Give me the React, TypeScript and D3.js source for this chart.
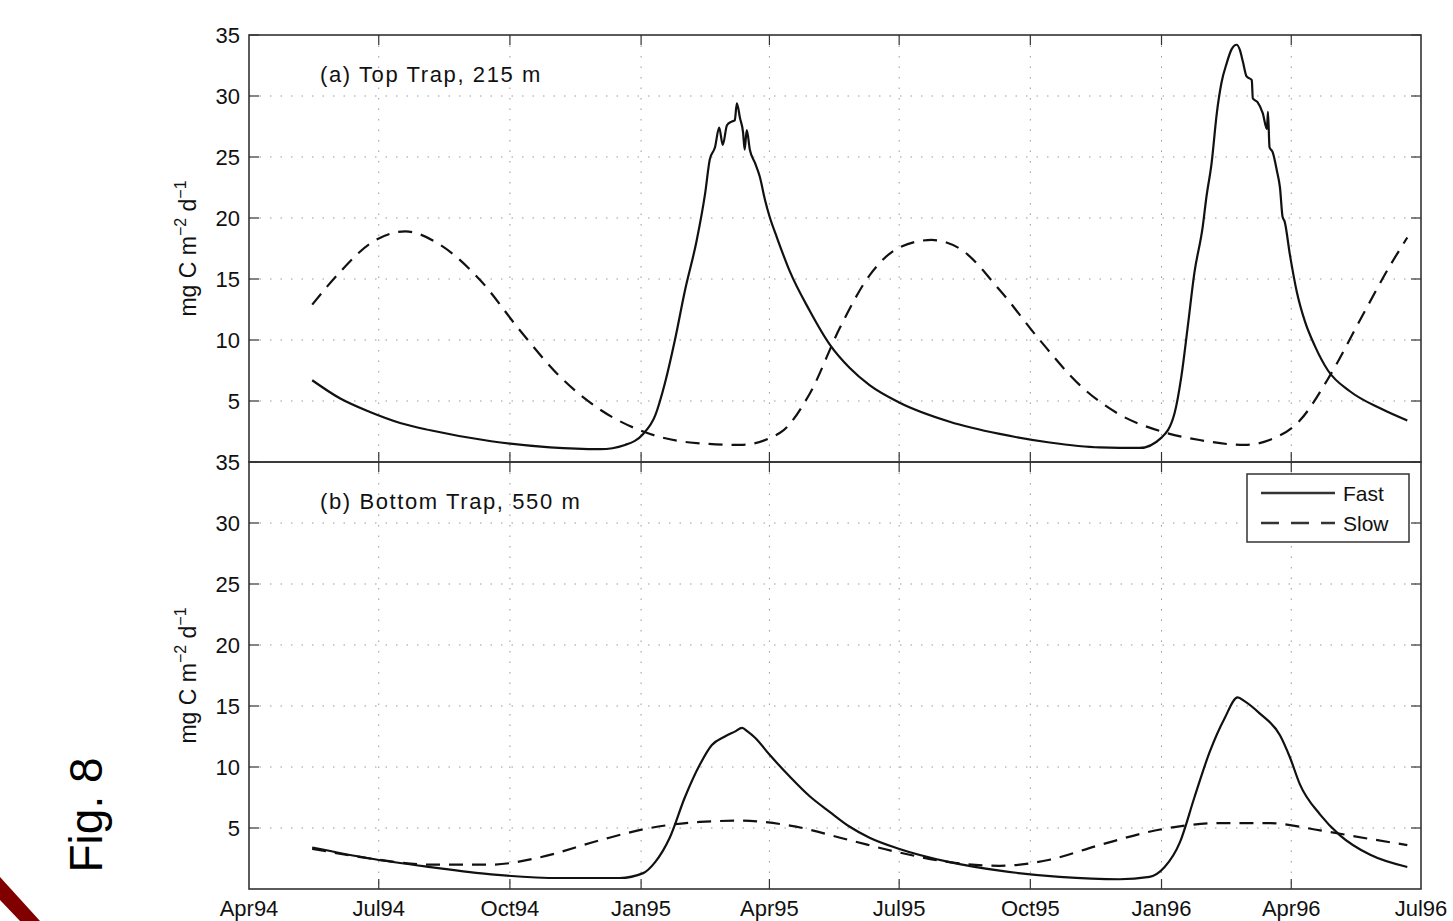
import React from "react";
import * as d3 from "d3";

// ---- data (time as decimal year, value in mg C m^-2 d^-1) ----
const xTickDates = [[1994, 3], [1994, 6], [1994, 9], [1995, 0], [1995, 3], [1995, 6], [1995, 9], [1996, 0], [1996, 3], [1996, 6]];
const xTickLabels = ["Apr94", "Jul94", "Oct94", "Jan95", "Apr95", "Jul95", "Oct95", "Jan96", "Apr96", "Jul96"];
const yTicks = [5, 10, 15, 20, 25, 30, 35];

const topFast: [number, number][] = [
  [1994.368, 6.7], [1994.422, 5.2], [1994.479, 4.1], [1994.537, 3.2], [1994.595, 2.6], [1994.712, 1.7],
  [1994.825, 1.2], [1994.921, 1.05], [1994.969, 1.4], [1995.004, 2.3], [1995.027, 3.8], [1995.046, 6.5],
  [1995.065, 10.0], [1995.084, 14.0], [1995.107, 18.2], [1995.123, 22.0], [1995.132, 24.8], [1995.142, 25.8],
  [1995.15, 27.4], [1995.157, 26.0], [1995.165, 27.6], [1995.174, 27.9], [1995.18, 28.0], [1995.184, 29.4],
  [1995.19, 28.2], [1995.196, 27.0], [1995.199, 25.6], [1995.203, 27.2], [1995.209, 25.6], [1995.219, 24.5],
  [1995.228, 23.4], [1995.238, 21.5], [1995.247, 20.1], [1995.261, 18.4], [1995.286, 15.6], [1995.324, 12.4],
  [1995.363, 9.6], [1995.401, 7.7], [1995.439, 6.3], [1995.495, 4.9], [1995.593, 3.3], [1995.689, 2.3],
  [1995.785, 1.6], [1995.881, 1.2], [1995.958, 1.15], [1996.0, 2.0], [1996.025, 4.0], [1996.038, 7.0],
  [1996.05, 11.0], [1996.063, 15.5], [1996.079, 19.3], [1996.086, 21.7], [1996.096, 24.5], [1996.106, 28.6],
  [1996.115, 31.1], [1996.125, 32.7], [1996.134, 33.8], [1996.144, 34.2], [1996.15, 33.8], [1996.156, 32.8],
  [1996.163, 31.6], [1996.173, 31.3], [1996.175, 29.8], [1996.184, 29.5], [1996.194, 28.6], [1996.202, 27.3],
  [1996.204, 28.7], [1996.207, 25.8], [1996.213, 25.4], [1996.221, 23.9], [1996.227, 22.5], [1996.232, 20.1],
  [1996.236, 19.7], [1996.246, 17.0], [1996.259, 14.0], [1996.275, 11.5], [1996.294, 9.5], [1996.319, 7.5],
  [1996.361, 5.8], [1996.419, 4.4], [1996.471, 3.4],
];

const topSlow: [number, number][] = [
  [1994.368, 12.9], [1994.422, 15.6], [1994.479, 17.9], [1994.547, 18.9], [1994.614, 17.8], [1994.691, 14.9],
  [1994.767, 10.8], [1994.844, 7.0], [1994.921, 4.3], [1995.004, 2.5], [1995.094, 1.6], [1995.19, 1.4],
  [1995.267, 2.4], [1995.324, 5.6], [1995.382, 11.0], [1995.439, 15.3], [1995.497, 17.6], [1995.558, 18.2],
  [1995.612, 17.5], [1995.689, 14.1], [1995.766, 10.0], [1995.843, 6.3], [1995.919, 3.9], [1996.0, 2.5],
  [1996.073, 1.8], [1996.159, 1.4], [1996.207, 1.8], [1996.265, 3.4], [1996.323, 7.1], [1996.38, 11.6],
  [1996.438, 16.1], [1996.471, 18.4],
];

const bottomFast: [number, number][] = [
  [1994.368, 3.4], [1994.479, 2.5], [1994.595, 1.8], [1994.712, 1.2], [1994.844, 0.9], [1994.959, 0.9],
  [1995.004, 1.3], [1995.027, 2.2], [1995.055, 4.2], [1995.084, 7.5], [1995.113, 10.2], [1995.136, 11.8],
  [1995.161, 12.5], [1995.18, 12.9], [1995.194, 13.2], [1995.205, 12.9], [1995.219, 12.4], [1995.247, 11.0],
  [1995.286, 9.2], [1995.324, 7.6], [1995.363, 6.3], [1995.401, 5.1], [1995.439, 4.2], [1995.495, 3.3],
  [1995.593, 2.2], [1995.689, 1.5], [1995.804, 1.0], [1995.919, 0.8], [1995.977, 1.0], [1996.006, 1.8],
  [1996.035, 3.8], [1996.063, 7.5], [1996.092, 11.2], [1996.121, 14.0], [1996.146, 15.7], [1996.159, 15.4],
  [1996.188, 14.4], [1996.227, 12.6], [1996.246, 10.8], [1996.265, 8.6], [1996.304, 6.1], [1996.342, 4.4],
  [1996.4, 2.8], [1996.471, 1.8],
];

const bottomSlow: [number, number][] = [
  [1994.368, 3.3], [1994.479, 2.5], [1994.595, 2.0], [1994.712, 2.0], [1994.806, 2.6], [1994.921, 4.0],
  [1995.017, 5.0], [1995.113, 5.5], [1995.19, 5.6], [1995.286, 5.2], [1995.401, 4.0], [1995.495, 3.0],
  [1995.593, 2.2], [1995.689, 1.9], [1995.785, 2.4], [1995.881, 3.6], [1996.0, 4.9], [1996.111, 5.4],
  [1996.207, 5.4], [1996.304, 4.8], [1996.4, 4.1], [1996.471, 3.6],
];

const legendLabels = ["Fast", "Slow"];
const panelTitles = ["(a) Top Trap, 215 m", "(b) Bottom Trap, 550 m"];

// ---- helpers ----
function decYear(t: number): Date {
  const y = Math.floor(t);
  const s = Date.UTC(y, 0, 1);
  const e = Date.UTC(y + 1, 0, 1);
  return new Date(s + (t - y) * (e - s));
}

const W = 1453;
const H = 921;
const L = 249;
const R = 1421;
const FONT = "'Liberation Sans', Arial, Helvetica, sans-serif";

const x = d3.scaleUtc().domain([new Date(Date.UTC(1994, 3, 1)), new Date(Date.UTC(1996, 6, 1))]).range([L, R]);
const tickDates = xTickDates.map(([y, m]) => new Date(Date.UTC(y, m, 1)));

function Panel({ top, bottom, fast, slow, title, legend, showXLabels }: any) {
  const y = d3.scaleLinear().domain([0, 35]).range([bottom, top]);
  const line = d3
    .line<[number, number]>()
    .x((d) => x(decYear(d[0])))
    .y((d) => y(d[1]))
    .curve(d3.curveMonotoneX);
  const tickLen = 10;
  const axisColor = "#333";
  return (
    <g>
      {/* grid */}
      {tickDates.slice(1, -1).map((d, i) => (
        <line key={"gx" + i} x1={x(d)} x2={x(d)} y1={top} y2={bottom} stroke="#999" strokeWidth={1} strokeDasharray="1.5,9" />
      ))}
      {yTicks.slice(0, -1).map((v) => (
        <line key={"gy" + v} x1={L} x2={R} y1={y(v)} y2={y(v)} stroke="#999" strokeWidth={1} strokeDasharray="1.5,9" />
      ))}
      {/* ticks */}
      {tickDates.slice(1, -1).map((d, i) => (
        <g key={"tx" + i}>
          <line x1={x(d)} x2={x(d)} y1={bottom} y2={bottom - tickLen} stroke={axisColor} strokeWidth={1.2} />
          <line x1={x(d)} x2={x(d)} y1={top} y2={top + tickLen} stroke={axisColor} strokeWidth={1.2} />
        </g>
      ))}
      {yTicks.map((v) => (
        <g key={"ty" + v}>
          <line x1={L} x2={L + tickLen} y1={y(v)} y2={y(v)} stroke={axisColor} strokeWidth={1.2} />
          <line x1={R} x2={R - tickLen} y1={y(v)} y2={y(v)} stroke={axisColor} strokeWidth={1.2} />
          <text x={240} y={y(v) + 8} textAnchor="end" fontSize={22} fontFamily={FONT} fill="#111">
            {v}
          </text>
        </g>
      ))}
      {/* curves */}
      <path d={line(slow) || ""} fill="none" stroke="#111" strokeWidth={2.2} strokeDasharray="14,9" />
      <path d={line(fast) || ""} fill="none" stroke="#111" strokeWidth={2.2} />
      {/* box */}
      <rect x={L} y={top} width={R - L} height={bottom - top} fill="none" stroke={axisColor} strokeWidth={1.6} />
      {/* title */}
      <text x={320} y={top + 47} fontSize={22} fontFamily={FONT} letterSpacing={1.6} fill="#111">
        {title}
      </text>
      {/* y label */}
      <text
        transform={`translate(196,${(top + bottom) / 2}) rotate(-90)`}
        textAnchor="middle"
        fontSize={23}
        fontFamily={FONT}
        fill="#111"
      >
        mg C m
        <tspan dy={-10} fontSize={16}>−2</tspan>
        <tspan dy={10}> d</tspan>
        <tspan dy={-10} fontSize={16}>−1</tspan>
      </text>
      {showXLabels &&
        tickDates.map((d, i) => (
          <text key={"xl" + i} x={x(d)} y={916} textAnchor="middle" fontSize={22} fontFamily={FONT} fill="#111">
            {xTickLabels[i]}
          </text>
        ))}
      {legend && (
        <g>
          <rect x={1247} y={474} width={162} height={68} fill="#fff" stroke={axisColor} strokeWidth={1.5} />
          <line x1={1261} x2={1335} y1={493} y2={493} stroke="#333" strokeWidth={2.4} />
          <line x1={1261} x2={1335} y1={523} y2={523} stroke="#333" strokeWidth={2.4} strokeDasharray="18,12" />
          <text x={1343} y={501} fontSize={21} fontFamily={FONT} fill="#111">{legendLabels[0]}</text>
          <text x={1343} y={531} fontSize={21} fontFamily={FONT} fill="#111">{legendLabels[1]}</text>
        </g>
      )}
    </g>
  );
}

export default function App() {
  return (
    <svg width={W} height={H} style={{ position: "absolute", left: 0, top: 0, background: "#fff" }}>
      <rect x={0} y={0} width={W} height={H} fill="#fff" />
      <polygon points="0,877 40,921 20,921 0,900" fill="#800000" />
      <text transform="translate(102,815) rotate(-90)" textAnchor="middle" fontSize={46} fontFamily={FONT} fill="#000">
        Fig. 8
      </text>
      <Panel top={35} bottom={462} fast={topFast} slow={topSlow} title={panelTitles[0]} legend={false} showXLabels={false} />
      <Panel top={462} bottom={889} fast={bottomFast} slow={bottomSlow} title={panelTitles[1]} legend={true} showXLabels={true} />
    </svg>
  );
}
